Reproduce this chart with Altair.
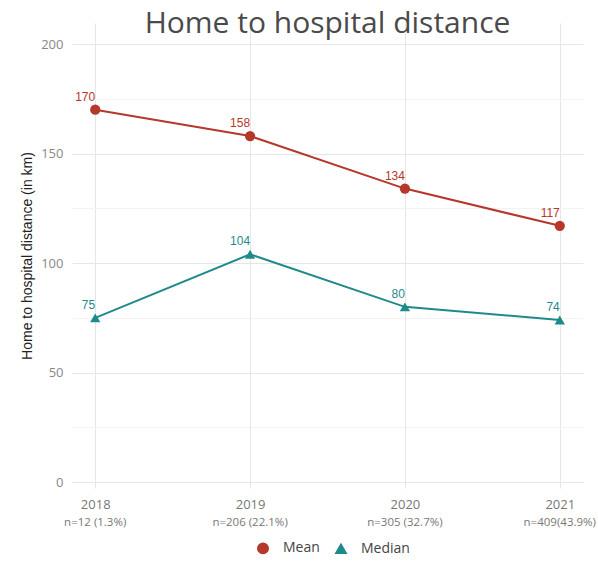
import altair as alt
import pandas as pd

# Yearly home-to-hospital distance summary (km)
years = [2018, 2019, 2020, 2021]
mean_km = [170, 158, 134, 117]
median_km = [75, 104, 80, 74]
n_labels = ["n=12 (1.3%)", "n=206 (22.1%)", "n=305 (32.7%)", "n=409(43.9%)"]
series = ["Mean", "Median"]
series_colors = ["#B5382B", "#1F8A8C"]
series_shapes = ["circle", "triangle-up"]

rows = []
for yr, m, md in zip(years, mean_km, median_km):
    rows.append({"year": yr, "stat": "Mean", "km": m})
    rows.append({"year": yr, "stat": "Median", "km": md})
df = pd.DataFrame(rows)
counts = pd.DataFrame({"year": years, "n": n_labels})

x_enc = alt.X(
    "year:Q",
    scale=alt.Scale(domain=[2017.85, 2021.15], nice=False, zero=False),
    axis=alt.Axis(
        values=[2018, 2018.5, 2019, 2019.5, 2020, 2020.5, 2021],
        format="d",
        labelExpr="datum.value % 1 == 0 ? datum.label : ''",
        title=None,
        ticks=False,
        domain=False,
        labelFont="Open Sans",
        labelFontSize=13,
        labelColor="#777777",
        labelPadding=10,
        gridColor={"condition": {"test": "datum.value % 1 == 0", "value": "#e6e6e6"}, "value": "#f3f3f3"},
    ),
)

y_enc = alt.Y(
    "km:Q",
    scale=alt.Scale(domain=[-2.7, 209.6], nice=False, zero=False),
    axis=alt.Axis(
        values=list(range(0, 201, 25)),
        labelExpr="datum.value % 50 == 0 ? datum.label : ''",
        title="Home to hospital distance (in km)",
        titleFont="Liberation Sans",
        titleFontSize=14,
        titleFontWeight="normal",
        titleColor="#222222",
        titlePadding=6,
        ticks=False,
        domain=False,
        labelFont="Open Sans",
        labelFontSize=13,
        labelColor="#888888",
        labelPadding=9,
        gridColor={"condition": {"test": "datum.value % 50 == 0", "value": "#e6e6e6"}, "value": "#f3f3f3"},
    ),
)

color_enc = alt.Color(
    "stat:N",
    scale=alt.Scale(domain=series, range=series_colors),
    title=None,
)
shape_enc = alt.Shape(
    "stat:N",
    scale=alt.Scale(domain=series, range=series_shapes),
    title=None,
)

base = alt.Chart(df)

lines = base.mark_line(strokeWidth=2).encode(x=x_enc, y=y_enc, color=color_enc, detail="stat:N")
points = base.mark_point(filled=True, size=105, opacity=1).encode(
    x=x_enc, y=y_enc, color=color_enc, shape=shape_enc
)
value_labels = base.mark_text(
    align="right", baseline="bottom", dy=-6, fontSize=12, font="Liberation Sans"
).encode(x=x_enc, y=y_enc, color=color_enc, text="km:Q")

count_labels = alt.Chart(counts).mark_text(
    fontSize=11.5, font="Open Sans", color="#777777", baseline="middle"
).encode(x=x_enc, y=alt.value(500), text="n:N")

chart = (
    alt.layer(lines, points, value_labels, count_labels)
    .properties(
        width=511,
        height=465,
        autosize=alt.AutoSizeParams(type="none"),
        padding={"left": 72, "top": 23, "right": 15, "bottom": 73},
        background="white",
        title=alt.TitleParams(
            "Home to hospital distance",
            font="Open Sans",
            fontSize=30,
            fontWeight="normal",
            color="#4a4a4a",
            anchor="middle",
            baseline="alphabetic",
            offset=0,
            dy=40,
        ),
    )
    .configure_view(stroke=None)
    .configure_legend(
        orient="none",
        direction="horizontal",
        legendX=184,
        legendY=518,
        labelFont="Open Sans",
        labelFontSize=14,
        labelColor="#444444",
        labelOffset=13,
        symbolSize=110,
        columnPadding=12,
    )
)

chart.save("out.html", embed_options={"renderer": "svg", "actions": False})
